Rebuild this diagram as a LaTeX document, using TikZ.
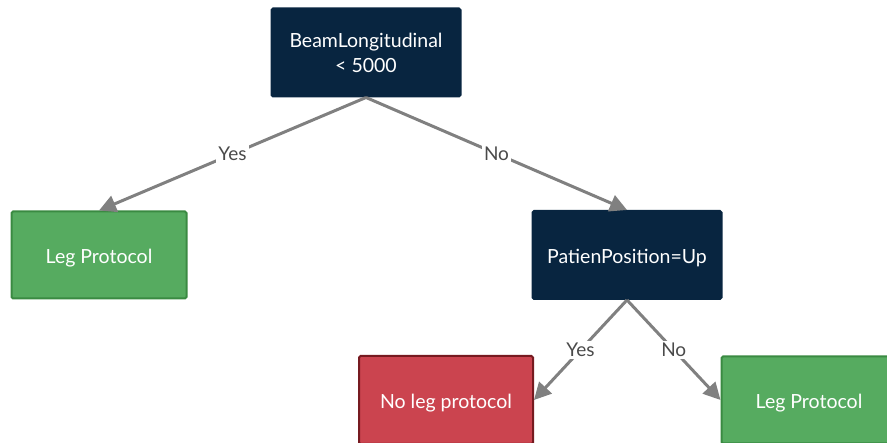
\documentclass[tikz,border=0pt]{standalone}
\usepackage{fontspec}
\setmainfont{Lato}
\usetikzlibrary{arrows.meta}
\definecolor{navy}{HTML}{082540}
\definecolor{gfill}{HTML}{56AB60}
\definecolor{gline}{HTML}{3A8A42}
\definecolor{rfill}{HTML}{CB444F}
\definecolor{rline}{HTML}{761A20}
\definecolor{edgegray}{HTML}{808080}
\definecolor{labgray}{HTML}{4A4A4A}
\tikzset{
  box/.style={rectangle, rounded corners=1.5pt, text=white, font=\fontsize{19.5}{25}\selectfont, align=center, inner sep=0pt, line width=2pt},
  onel/.style={text height=20pt, text depth=2pt},
  navybox/.style={box, fill=navy, draw=navy, minimum width=189pt, minimum height=88pt},
  greenbox/.style={box, onel, fill=gfill, draw=gline, minimum width=175pt, minimum height=87pt},
  redbox/.style={box, onel, fill=rfill, draw=rline, minimum width=174pt, minimum height=88pt},
  conn/.style={draw=edgegray, line width=3pt, -{Triangle[length=17pt,width=17pt]}},
  lab/.style={fill=white, text=labgray, font=\fontsize{19}{22}\selectfont, inner sep=2pt}
}
\begin{document}
\begin{tikzpicture}[x=1pt,y=-1pt]
\useasboundingbox (0,0) rectangle (887,443);
\clip (0,0) rectangle (887,443);
\node[navybox] (top) at (366,52.5) {BeamLongitudinal\\< 5000};
\node[greenbox] (legl) at (99,255) {Leg Protocol};
\node[navybox, onel] (pat) at (627,255) {PatienPosition=Up};
\node[redbox] (noleg) at (446,400) {No leg protocol};
\node[greenbox] (legr) at (809,400) {Leg Protocol};
\draw[conn] (top.south) -- node[lab] (l1) {Yes} (legl.north);
\draw[conn] (top.south) -- node[lab] (l2) {No} (pat.north);
\draw[conn] (pat.south) -- node[lab] (l3) {Yes} (noleg.east);
\draw[conn] (pat.south) -- node[lab] (l4) {No} (legr.west);
\end{tikzpicture}
\end{document}
